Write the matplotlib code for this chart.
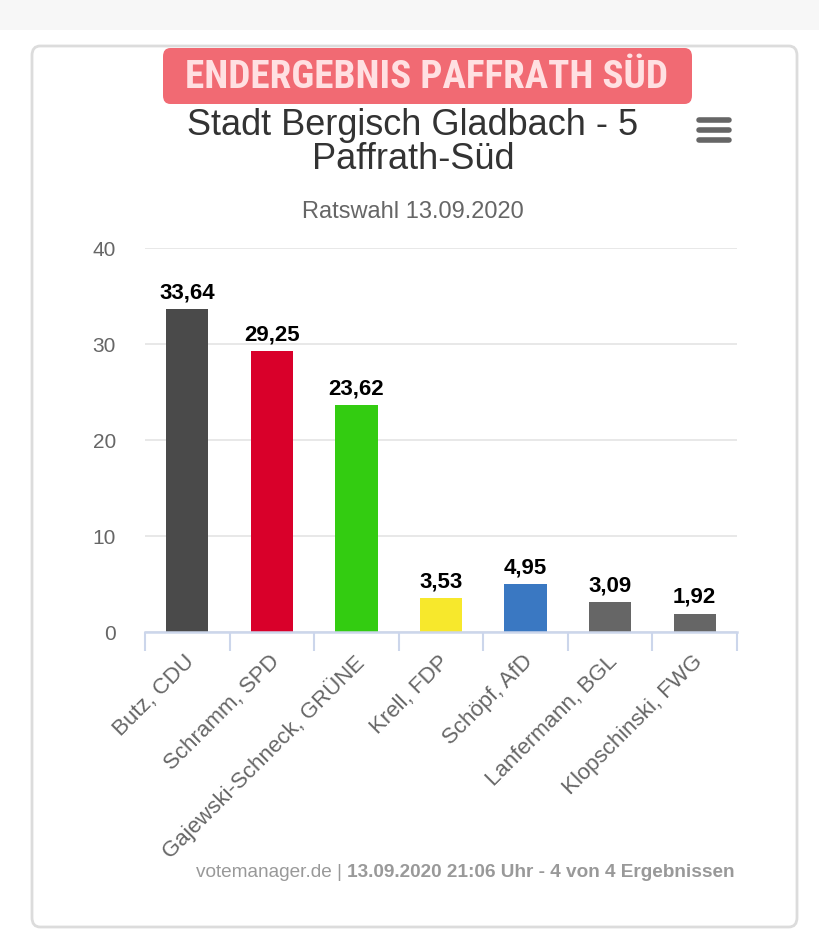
import matplotlib
matplotlib.use("Agg")
import os
import matplotlib.pyplot as plt
from matplotlib.patches import FancyBboxPatch, Rectangle
from matplotlib.transforms import ScaledTranslation
from matplotlib import font_manager
from matplotlib.font_manager import FontProperties

# ---- data ----
candidates = ["Butz, CDU", "Schramm, SPD", "Gajewski-Schneck, GRÜNE", "Krell, FDP",
              "Schöpf, AfD", "Lanfermann, BGL", "Klopschinski, FWG"]
values = [33.64, 29.25, 23.62, 3.53, 4.95, 3.09, 1.92]
colors = ["#4a4a4a", "#d9002a", "#33cc11", "#f7e82c", "#3a78c2", "#666666", "#666666"]
yticks = [0, 10, 20, 30, 40]
banner_text = "ENDERGEBNIS PAFFRATH SÜD"
title_lines = ["Stadt Bergisch Gladbach - 5", "Paffrath-Süd"]
subtitle = "Ratswahl 13.09.2020"
credit_normal = "votemanager.de | "
credit_bold = "13.09.2020 21:06 Uhr - 4 von 4 Ergebnissen"

W, H = 820, 943
avail = {f.name for f in font_manager.fontManager.ttflist}
base_font = "Liberation Sans" if "Liberation Sans" in avail else "DejaVu Sans"
plt.rcParams["font.family"] = [base_font, "DejaVu Sans"]

# find a condensed / narrow bold font file for the banner
narrow_path = None
cands = []
for f in font_manager.fontManager.ttflist:
    fn = os.path.basename(f.fname).lower()
    if ("condensed" in fn or "narrow" in fn or "cond" in fn) and "italic" not in fn and "oblique" not in fn:
        score = 0
        if "bold" in fn:
            score += 2
        if "semi" in fn or "extra" in fn:
            score -= 1
        cands.append((score, f.fname))
if cands:
    cands.sort(reverse=True)
    narrow_path = cands[0][1]
if narrow_path:
    banner_fp = FontProperties(fname=narrow_path)
else:
    banner_fp = FontProperties(family=base_font, weight="bold")

fig = plt.figure(figsize=(W / 100, H / 100), dpi=100)
fig.patch.set_facecolor("white")

def fx(x):
    return x / W

def fy(y):
    return 1 - y / H

# top light strip
fig.patches.append(Rectangle((0, fy(30)), 1, 30 / H, transform=fig.transFigure,
                             facecolor="#f7f7f7", edgecolor="none", zorder=0))
# card
fig.patches.append(FancyBboxPatch((fx(32), fy(927)), fx(797) - fx(32), fy(46) - fy(927),
                                  boxstyle="round,pad=0,rounding_size=0.01",
                                  transform=fig.transFigure, facecolor="white",
                                  edgecolor="#dcdcdc", linewidth=2, zorder=0.5))
# banner
fig.patches.append(FancyBboxPatch((fx(163), fy(104)), fx(692) - fx(163), fy(48) - fy(104),
                                  boxstyle="round,pad=0,rounding_size=0.009",
                                  transform=fig.transFigure, facecolor="#f16a73",
                                  edgecolor="none", zorder=1))
fig.canvas.draw()
r = fig.canvas.get_renderer()
bt = fig.text(fx(427), fy(77), banner_text, ha="center", va="center", fontproperties=banner_fp,
              color="#ffe0e2", zorder=2)
bt.set_fontsize(40)
wpx = bt.get_window_extent(renderer=r).width
bt.set_fontsize(min(60, 40 * 482 / wpx))

# titles
fig.text(fx(413), fy(135), title_lines[0], ha="center", va="baseline", fontsize=26, color="#333333")
fig.text(fx(413), fy(169), title_lines[1], ha="center", va="baseline", fontsize=26, color="#333333")
fig.text(fx(413), fy(218), subtitle, ha="center", va="baseline", fontsize=17, color="#666666")

# hamburger menu
for yy in (120, 130, 140):
    fig.add_artist(plt.Line2D([fx(699), fx(729)], [fy(yy), fy(yy)], transform=fig.transFigure,
                              color="#666666", linewidth=4, solid_capstyle="round"))

# axes
ax = fig.add_axes([fx(145), fy(632), fx(737) - fx(145), fy(248) - fy(632)])
ax.set_zorder(3)
ax.set_facecolor("none")
x = list(range(len(candidates)))
ax.bar(x, values, width=0.5, color=colors, zorder=3)
ax.set_xlim(-0.5, len(candidates) - 0.5)
ax.set_ylim(0, 40)
ax.set_yticks(yticks)
ax.set_yticklabels([str(t) for t in yticks], fontsize=15, color="#666666")
ax.tick_params(axis="y", length=0, pad=21)
ax.grid(axis="y", color="#e6e6e6", linewidth=1.3, zorder=0)
for s in ("left", "right", "top"):
    ax.spines[s].set_visible(False)
ax.spines["bottom"].set_color("#ccd6eb")
ax.spines["bottom"].set_linewidth(1.8)
ax.spines["bottom"].set_zorder(4)

ax.set_xticks(x)
ax.set_xticklabels(candidates, rotation=45, ha="right", va="top", rotation_mode="anchor",
                   fontsize=16, color="#666666")
ax.tick_params(axis="x", length=0, pad=14)
ax.set_xticks([i - 0.5 for i in range(len(candidates) + 1)], minor=True)
ax.tick_params(axis="x", which="minor", length=13.7, width=1.5, color="#ccd6eb")
off = ScaledTranslation(-3 / 100, 0, fig.dpi_scale_trans)
for lab in ax.get_xticklabels():
    lab.set_transform(lab.get_transform() + off)

for i, v in enumerate(values):
    ax.annotate(f"{v:.2f}".replace(".", ","), (i, v), xytext=(0, 6), textcoords="offset pixels",
                ha="center", va="bottom", fontsize=16, fontweight="bold", color="black", zorder=5)

# credits
tb = fig.text(fx(735), fy(877), credit_bold, ha="right", va="baseline", fontsize=13.7,
              fontweight="bold", color="#999999")
bb = tb.get_window_extent(renderer=r)
fig.text(bb.x0 / W, fy(877), credit_normal, ha="right", va="baseline", fontsize=13.7,
         color="#999999")

fig.savefig("out.png", dpi=100)
